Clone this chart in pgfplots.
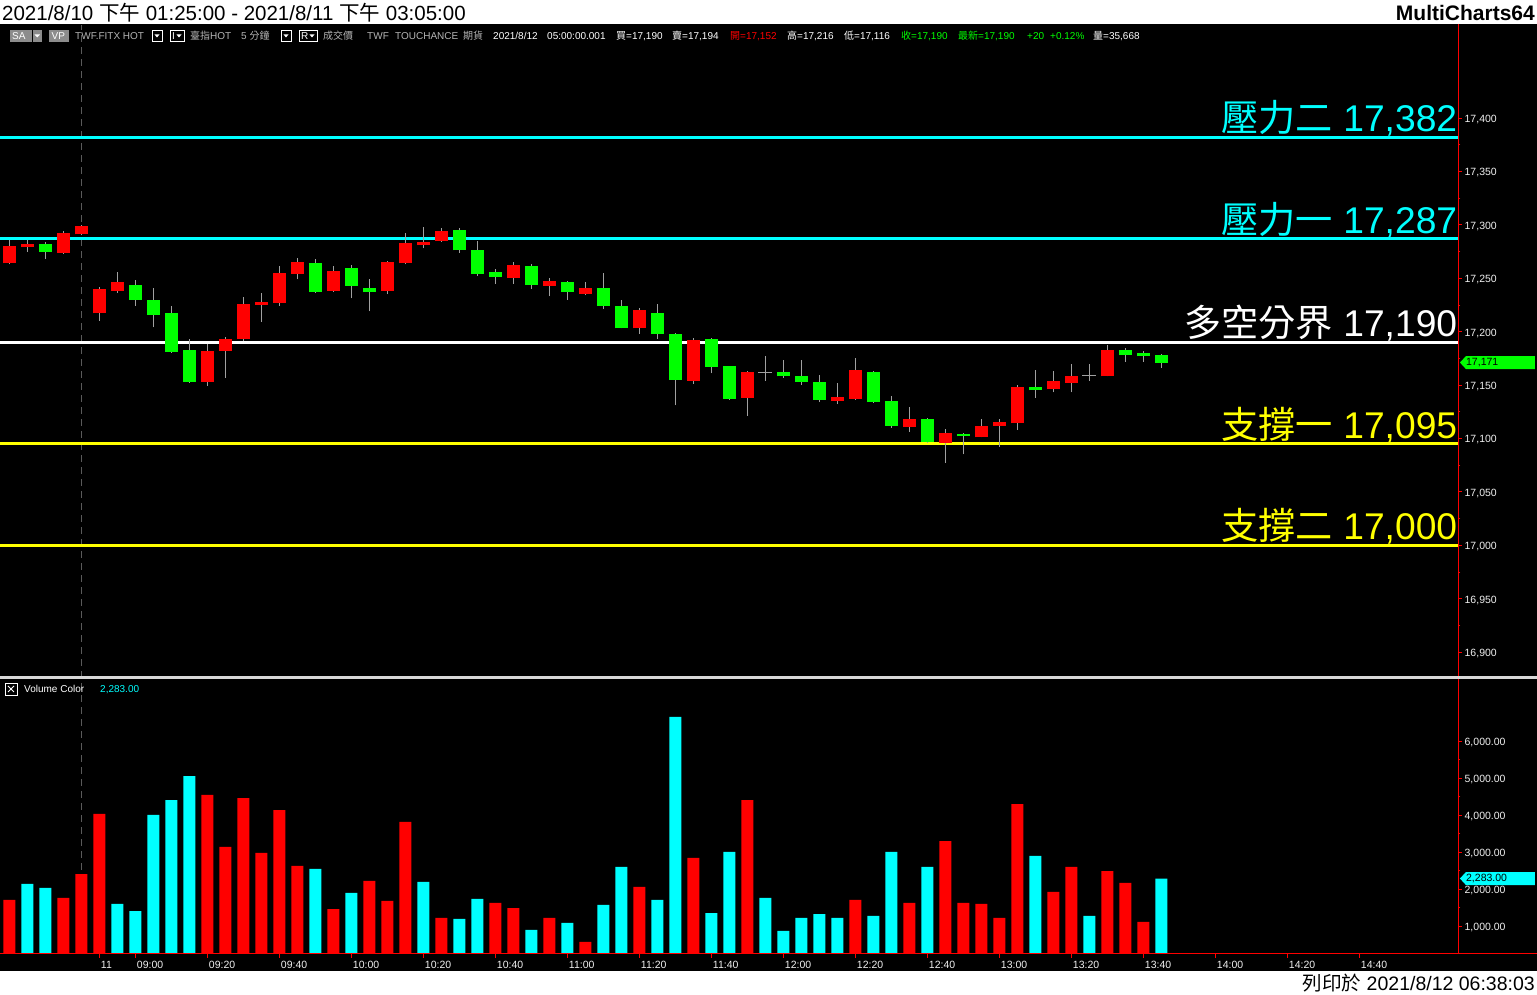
\documentclass[border=0pt]{standalone}
\usepackage{pgfplots}
\pgfplotsset{compat=1.18}
\usepackage{pgfplotstable}
\usepackage{fontspec}
\setmainfont{Liberation Sans}
\newfontfamily\cjk{Noto Sans CJK TC}

\definecolor{upc}{HTML}{FF0000}
\definecolor{dnc}{HTML}{00FF00}
\definecolor{aquac}{HTML}{00FFFF}
\definecolor{yelc}{HTML}{FFFF00}
\definecolor{wickc}{HTML}{A0A0A0}
\definecolor{dimc}{HTML}{B4B4B4}
\definecolor{lblc}{HTML}{F0F0F0}
\definecolor{sepc}{HTML}{D8D8D8}
\definecolor{sessc}{HTML}{5A5A5A}
\definecolor{boxc}{HTML}{8C8C8C}

\newcommand\lvlfont{\fontsize{37.2}{40}\selectfont}
\newcommand\smallfont{\fontsize{10.5}{12}\selectfont}
\newcommand\barfont{\fontsize{10}{12}\selectfont}

% TXF 5-minute bars; i = 0 is 2021/8/10 13:25, i = 5 is 2021/8/11 08:50
% rising bars (close above open)
\pgfplotstableread{
i o h l c
0 17264 17286 17263 17280
1 17279 17286 17275 17282
3 17274 17294 17273 17292
4 17291 17300 17290 17299
5 17217 17242 17210 17240
6 17238 17256 17236 17246
11 17153 17188 17149 17182
12 17182 17195 17157 17193
13 17193 17232 17191 17226
14 17225 17236 17209 17228
15 17227 17261 17224 17255
16 17254 17269 17249 17265
18 17238 17261 17237 17257
21 17238 17266 17235 17265
22 17264 17292 17263 17283
23 17281 17298 17278 17284
24 17285 17297 17284 17294
28 17250 17265 17245 17262
30 17243 17250 17233 17247
32 17235 17246 17234 17241
35 17203 17222 17198 17220
38 17154 17194 17151 17192
41 17138 17163 17121 17162
46 17135 17152 17132 17139
47 17137 17175 17136 17164
50 17111 17129 17106 17118
52 17096 17109 17077 17105
54 17101 17118 17101 17112
55 17112 17118 17092 17115
56 17114 17150 17108 17148
58 17146 17163 17143 17154
59 17152 17170 17143 17158
61 17158 17187 17158 17183
}\upbars
% falling bars (close below open)
\pgfplotstableread{
i o h l c
2 17282 17284 17268 17275
7 17244 17248 17224 17230
8 17230 17241 17204 17216
9 17217 17224 17180 17181
10 17183 17193 17152 17153
17 17264 17268 17236 17237
19 17260 17262 17231 17243
20 17241 17249 17219 17237
25 17295 17297 17274 17276
26 17276 17285 17252 17254
27 17256 17259 17245 17251
29 17261 17263 17240 17244
31 17246 17247 17230 17237
33 17241 17255 17221 17224
34 17224 17230 17203 17203
36 17217 17226 17193 17198
37 17198 17199 17131 17155
39 17193 17194 17161 17167
40 17168 17168 17136 17137
43 17162 17173 17157 17158
44 17158 17173 17150 17153
45 17153 17159 17134 17136
48 17162 17163 17133 17134
49 17135 17140 17110 17112
51 17118 17119 17096 17097
53 17104 17105 17085 17102
57 17148 17164 17138 17145
62 17183 17185 17172 17178
63 17180 17182 17172 17177
64 17178 17179 17166 17171
}\dnbars
% unchanged bars
\pgfplotstableread{
i o h l c
42 17162 17177 17154 17162
60 17159 17170 17154 17159
}\flatbars

% volume per bar
\pgfplotstableread{
i v
0 1703
3 1757
4 2405
5 4027
11 4541
12 3135
13 4459
14 2973
15 4135
16 2622
18 1459
20 2216
21 1676
22 3811
24 1216
27 1622
28 1486
30 1216
32 568
35 2054
38 2838
41 4405
47 1703
50 1622
52 3297
53 1622
54 1595
55 1216
56 4297
58 1919
59 2595
61 2486
62 2162
63 1108
}\volred
\pgfplotstableread{
i v
1 2135
2 2027
6 1595
7 1405
8 4000
9 4405
10 5054
17 2541
19 1892
23 2189
25 1189
26 1730
29 892
31 1081
33 1568
34 2595
36 1703
37 6649
39 1351
40 3000
42 1757
43 865
44 1216
45 1324
46 1216
48 1270
49 3000
51 2595
57 2892
60 1270
64 2283
}\volcyan

\pgfplotsset{
  wicks/.style={draw=none, mark=none, forget plot,
    error bars/.cd, y dir=plus, y explicit, error mark=none,
    error bar style={draw=wickc, line width=1pt}},
  bodies/.style={draw=none, mark=none, forget plot,
    error bars/.cd, y dir=plus, y explicit, error mark=none,
    error bar style={draw=#1, line width=13pt}},
  panel/.style={anchor=south west, scale only axis, width=1458pt,
    xmin=-0.5167, xmax=80.4833,
    axis line style={draw=none},
    tick align=outside, major tick length=4pt, minor tick length=2.5pt,
    every tick/.style={draw=upc, line width=0.8pt},
    ytick pos=right, yticklabel pos=right,
    yticklabel style={font=\smallfont, text=lblc, inner sep=0pt, anchor=west, xshift=2.5pt, yshift=-1.5pt},
    scaled y ticks=false,
    /pgf/number format/assume math mode=true},
}

\begin{document}
\begin{tikzpicture}[x=1pt,y=1pt]
\useasboundingbox (0,0) rectangle (1537,995);
\fill[white] (0,0) rectangle (1537,995);
\fill[black] (0,23.5) rectangle (1537,970.5);
% session break between 8/10 and 8/11
\draw[draw=sessc, dash pattern=on 7pt off 5pt, line width=1pt] (81.3,41) -- (81.3,970);

% ---------------- price panel ----------------
\begin{axis}[panel, at={(0pt,318pt)}, height=652pt,
  ymin=16876.6, ymax=17487.1,
  xtick=\empty,
  ytick={16900,16950,...,17400}, minor y tick num=1,
  /pgf/number format/1000 sep={,}]
  % support / resistance levels
  \addplot[aquac, line width=3pt, forget plot] coordinates {(-0.5167,17382) (80.4833,17382)};
  \addplot[aquac, line width=3pt, forget plot] coordinates {(-0.5167,17287) (80.4833,17287)};
  \addplot[white, line width=3pt, forget plot] coordinates {(-0.5167,17190) (80.4833,17190)};
  \addplot[yelc, line width=3pt, forget plot] coordinates {(-0.5167,17095) (80.4833,17095)};
  \addplot[yelc, line width=3pt, forget plot] coordinates {(-0.5167,17000) (80.4833,17000)};
  % candles
  \addplot[wicks] table[x=i, y=l, y error expr=\thisrow{h}-\thisrow{l}] {\upbars};
  \addplot[wicks] table[x=i, y=l, y error expr=\thisrow{h}-\thisrow{l}] {\dnbars};
  \addplot[wicks] table[x=i, y=l, y error expr=\thisrow{h}-\thisrow{l}] {\flatbars};
  \addplot[bodies=upc] table[x=i, y=o, y error expr=\thisrow{c}-\thisrow{o}] {\upbars};
  \addplot[bodies=dnc] table[x=i, y=c, y error expr=\thisrow{o}-\thisrow{c}] {\dnbars};
  \addplot[draw=none, mark=none, forget plot,
    error bars/.cd, y dir=plus, y explicit, error mark=none,
    error bar style={draw=wickc, line width=14pt}]
    table[x=i, y expr=\thisrow{o}-0.5, y error expr=1] {\flatbars};
  % level captions
  \node[anchor=base east, inner sep=0pt, text=aquac, font=\lvlfont, yshift=5.5pt] at (axis cs:80.45,17382) {{\cjk 壓力二} 17,382};
  \node[anchor=base east, inner sep=0pt, text=aquac, font=\lvlfont, yshift=5.5pt] at (axis cs:80.45,17287) {{\cjk 壓力一} 17,287};
  \node[anchor=base east, inner sep=0pt, text=white, font=\lvlfont, yshift=5.5pt] at (axis cs:80.45,17190) {{\cjk 多空分界} 17,190};
  \node[anchor=base east, inner sep=0pt, text=yelc, font=\lvlfont, yshift=5.5pt] at (axis cs:80.45,17095) {{\cjk 支撐一} 17,095};
  \node[anchor=base east, inner sep=0pt, text=yelc, font=\lvlfont, yshift=5.5pt] at (axis cs:80.45,17000) {{\cjk 支撐二} 17,000};
  \coordinate (ptag) at (axis cs:80.4833,17171);
\end{axis}

% ---------------- volume panel ----------------
\begin{axis}[panel, at={(0pt,41pt)}, height=274pt,
  ymin=243, ymax=7649,
  xtick pos=left, xticklabel pos=left,
  xtick={5,7,11,15,19,23,27,31,35,39,43,47,51,55,59,63,67,71,75},
  xticklabels={11,09:00,09:20,09:40,10:00,10:20,10:40,11:00,11:20,11:40,12:00,12:20,12:40,13:00,13:20,13:40,14:00,14:20,14:40},
  xticklabel style={font=\smallfont, text=lblc, inner sep=0pt, anchor=north west, xshift=1.5pt, yshift=-3pt},
  ytick={1000,2000,...,6000}, minor y tick num=1,
  /pgf/number format/fixed, /pgf/number format/fixed zerofill,
  /pgf/number format/precision=2, /pgf/number format/1000 sep={,}]
  \addplot[ybar, bar width=12pt, bar shift=0pt, fill=upc, draw=none, forget plot] table[x=i, y=v] {\volred};
  \addplot[ybar, bar width=12pt, bar shift=0pt, fill=aquac, draw=none, forget plot] table[x=i, y=v] {\volcyan};
  \coordinate (vtag) at (axis cs:80.4833,2283);
\end{axis}

% scale lines, panel separator
\draw[upc, line width=1pt] (1458,41) -- (1458,970.5);
\draw[upc, line width=1pt] (0,41) -- (1537,41);
\draw[sepc, line width=2.5pt] (0,317.5) -- (1537,317.5);

% last-value tags on the right scale
\fill[dnc] (ptag) ++(2,0) -- ++(6,6.5) -- ++(69,0) -- ++(0,-13) -- ++(-69,0) -- cycle;
\node[anchor=west, inner sep=0pt, font=\smallfont, text=black] at ([xshift=8pt]ptag) {17,171};
\fill[aquac] (vtag) ++(2,0) -- ++(6,6.5) -- ++(69,0) -- ++(0,-13) -- ++(-69,0) -- cycle;
\node[anchor=west, inner sep=0pt, font=\smallfont, text=black] at ([xshift=8pt]vtag) {2,283.00};

% title bar
\node[anchor=base west, inner sep=0pt, font=\fontsize{20.5}{24}\selectfont, text=black] at (2,974)
  {2021/8/10 {\cjk 下午} 01:25:00 - 2021/8/11 {\cjk 下午} 03:05:00};
\node[anchor=base east, inner sep=0pt, font=\bfseries\fontsize{21}{24}\selectfont, text=black] at (1535,974) {MultiCharts64};
\node[anchor=base east, inner sep=0pt, font=\fontsize{19.5}{22}\selectfont, text=black] at (1535,4)
  {{\cjk 列印於} 2021/8/12 06:38:03};

% symbol toolbar
\begin{scope}[font=\barfont]
  \fill[boxc] (10,953) rectangle (42,965);
  \node[anchor=base west, inner sep=0pt, text=white] at (12,955) {SA};
  \draw[black, line width=1pt] (32.5,953) -- (32.5,965);
  \fill[white] (34.5,960.5) -- (40,960.5) -- (37.25,957.5) -- cycle;
  \fill[boxc] (49,953) rectangle (69,965);
  \node[anchor=base west, inner sep=0pt, text=white] at (51.5,955) {VP};
  \node[anchor=base west, inner sep=0pt, text=dimc] at (75,955) {TWF.FITX HOT};
  \draw[white, line width=0.8pt] (152,953.5) rectangle (162,964.5);
  \fill[white] (154.5,960.5) -- (159.5,960.5) -- (157,957.5) -- cycle;
  \draw[white, line width=0.8pt] (170,953.5) rectangle (184,964.5);
  \node[anchor=base west, inner sep=0pt, text=white] at (172,955) {I};
  \fill[white] (176.5,960.5) -- (181.5,960.5) -- (179,957.5) -- cycle;
  \node[anchor=base west, inner sep=0pt, text=dimc] at (190,955) {{\cjk 臺指}HOT};
  \node[anchor=base west, inner sep=0pt, text=dimc] at (241,955) {5 {\cjk 分鐘}};
  \draw[white, line width=0.8pt] (281,953.5) rectangle (291,964.5);
  \fill[white] (283.5,960.5) -- (288.5,960.5) -- (286,957.5) -- cycle;
  \draw[white, line width=0.8pt] (299,953.5) rectangle (317,964.5);
  \node[anchor=base west, inner sep=0pt, text=white] at (301,955) {R};
  \fill[white] (309.5,960.5) -- (314.5,960.5) -- (312,957.5) -- cycle;
  \node[anchor=base west, inner sep=0pt, text=dimc] at (323,955) {\cjk 成交價};
  \node[anchor=base west, inner sep=0pt, text=dimc] at (367,955) {TWF};
  \node[anchor=base west, inner sep=0pt, text=dimc] at (395,955) {TOUCHANCE};
  \node[anchor=base west, inner sep=0pt, text=dimc] at (463,955) {\cjk 期貨};
  \node[anchor=base west, inner sep=0pt, text=white] at (493,955) {2021/8/12};
  \node[anchor=base west, inner sep=0pt, text=white] at (547,955) {05:00:00.001};
  \node[anchor=base west, inner sep=0pt, text=white] at (616,955) {{\cjk 買}=17,190};
  \node[anchor=base west, inner sep=0pt, text=white] at (672,955) {{\cjk 賣}=17,194};
  \node[anchor=base west, inner sep=0pt, text=upc] at (730,955) {{\cjk 開}=17,152};
  \node[anchor=base west, inner sep=0pt, text=white] at (787,955) {{\cjk 高}=17,216};
  \node[anchor=base west, inner sep=0pt, text=white] at (844,955) {{\cjk 低}=17,116};
  \node[anchor=base west, inner sep=0pt, text=dnc] at (901,955) {{\cjk 收}=17,190};
  \node[anchor=base west, inner sep=0pt, text=dnc] at (958,955) {{\cjk 最新}=17,190};
  \node[anchor=base west, inner sep=0pt, text=dnc] at (1027,955) {+20};
  \node[anchor=base west, inner sep=0pt, text=dnc] at (1050,955) {+0.12\%};
  \node[anchor=base west, inner sep=0pt, text=white] at (1093,955) {{\cjk 量}=35,668};
  % volume study caption
  \draw[white, line width=0.8pt] (5,300) rectangle (17,312);
  \draw[white, line width=0.8pt] (8,303) -- (14,309) (8,309) -- (14,303);
  \node[anchor=base west, inner sep=0pt, text=white] at (24,302) {Volume Color};
  \node[anchor=base west, inner sep=0pt, text=aquac] at (100,302) {2,283.00};
\end{scope}
\end{tikzpicture}
\end{document}
